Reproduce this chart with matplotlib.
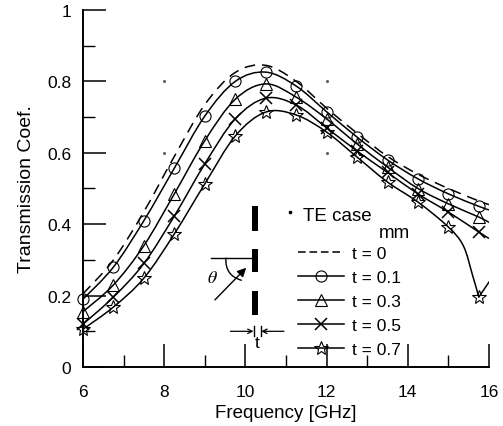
import matplotlib
matplotlib.use("Agg")
import matplotlib.pyplot as plt
import numpy as np
from matplotlib.lines import Line2D
from matplotlib.patches import PathPatch, Rectangle, FancyArrowPatch
from matplotlib.path import Path
from matplotlib.ticker import MultipleLocator, FuncFormatter

plt.rcParams['font.family'] = ['Liberation Sans', 'DejaVu Sans']

freq = [6, 6.75, 7.5, 8.25, 9, 9.75, 10.5, 11.25, 12, 12.75, 13.5, 14.25, 15, 15.75]
t0 = [.205, .30, .435, .59, .735, .825, .845, .80, .725, .655, .59, .54, .50, .465]
t1 = [.19, .28, .41, .557, .703, .80, .826, .787, .715, .644, .58, .527, .485, .45]
t3 = [.155, .23, .34, .485, .634, .75, .793, .756, .695, .625, .56, .50, .457, .42]
t5 = [.12, .196, .29, .423, .569, .695, .753, .734, .67, .605, .545, .485, .434, .378]
t7 = [.106, .168, .249, .373, .513, .647, .714, .706, .658, .588, .518, .462, .392, .196]

# line ends past the last marker
end_x = 16
end_t0, end_t1, end_t3, end_t5, end_t7 = .455, .44, .405, .36, .238
# t=0.7 drops off sharply, extra points
bend_x = [15.37, 15.6]
bend_y = [.339, .255]

labels = ['t = 0', 't = 0.1', 't = 0.3', 't = 0.5', 't = 0.7']


def smooth(x, y):
    # catmull-rom through the read points, as bezier segments
    x = np.array(x, dtype=float)
    y = np.array(y, dtype=float)
    p = np.column_stack([x, y])
    verts = [p[0]]
    codes = [Path.MOVETO]
    for i in range(len(p) - 1):
        a = p[max(i - 1, 0)]
        d = p[min(i + 2, len(p) - 1)]
        verts += [p[i] + (p[i + 1] - a) / 6, p[i + 1] - (d - p[i]) / 6, p[i + 1]]
        codes += [Path.CURVE4] * 3
    return Path(verts, codes)


def curve(ax, x, y, ls='-'):
    ax.add_patch(PathPatch(smooth(x, y), fill=False, ec='black', lw=1.1, ls=ls, capstyle='butt'))


fig = plt.figure(figsize=(5.03, 4.27), dpi=100)
ax = fig.add_axes([83 / 503, 1 - 368 / 427, (489 - 83) / 503, 357 / 427])
ax.set_xlim(6, 16)
ax.set_ylim(0, 1)

curve(ax, freq + [end_x], t0 + [end_t0], ls=(0, (7, 4.5)))
curve(ax, freq + [end_x], t1 + [end_t1])
curve(ax, freq + [end_x], t3 + [end_t3])
curve(ax, freq + [end_x], t5 + [end_t5])
curve(ax, freq[:-1] + bend_x + freq[-1:], t7[:-1] + bend_y + t7[-1:])
ax.plot([freq[-1], end_x], [t7[-1], end_t7], color='black', lw=1.1)

styles = [dict(marker='o', ms=8), dict(marker='^', ms=8), dict(marker='x', ms=8.5, mew=1.1), dict(marker='*', ms=10)]
for vals, st in zip([t1, t3, t5, t7], styles):
    ax.plot(freq, vals, ls='none', color='black', mfc='none', mew=st.get('mew', .8),
            marker=st['marker'], ms=st['ms'], clip_on=False, zorder=4)

# specks left on the scan
ax.plot([8, 12, 8, 12], [.8, .8, .6, .6], ls='none', marker='s', ms=1, color='#555555')

for side in ['top', 'right']:
    ax.spines[side].set_visible(False)
ax.spines['left'].set_linewidth(1.4)
ax.spines['bottom'].set_linewidth(1.4)
ax.xaxis.set_major_locator(MultipleLocator(2))
ax.xaxis.set_minor_locator(MultipleLocator(1))
ax.yaxis.set_major_locator(MultipleLocator(.2))
ax.yaxis.set_minor_locator(MultipleLocator(.1))
ax.yaxis.set_major_formatter(FuncFormatter(lambda v, _: '%g' % round(v, 1)))
ax.tick_params(which='major', direction='in', length=16.5, width=1.1, labelsize=12.5)
ax.tick_params(which='minor', direction='in', length=8.5, width=1)
ax.tick_params(axis='x', which='major', pad=12.5)
ax.tick_params(axis='y', which='major', pad=8.5)
ax.set_xlabel('Frequency [GHz]', fontsize=13.5, labelpad=3)
ax.set_ylabel('Transmission Coef.', fontsize=14, labelpad=9)

# slit sketch
for low, high in [(.381, .451), (.267, .331), (.146, .213)]:
    ax.add_patch(Rectangle((10.17, low), .148, high - low, color='black', lw=0))
ax.plot([9.15, 10.24], [.305, .305], color='black', lw=1)
ax.add_patch(FancyArrowPatch((9.25, .188), (10.02, .278), arrowstyle='-|>', mutation_scale=13,
                             color='black', lw=1, shrinkA=0, shrinkB=0))
ax.add_patch(FancyArrowPatch((9.52, .305), (9.9, .243), connectionstyle='arc3,rad=0.4', arrowstyle='-',
                             color='black', lw=1, shrinkA=0, shrinkB=0))
ax.text(9.2, .252, r'$\theta$', fontsize=13, math_fontfamily='stix', ha='center', va='center')
ax.plot([10.2, 10.2], [.115, .087], color='black', lw=1)
ax.plot([10.39, 10.39], [.115, .087], color='black', lw=1)
ax.add_patch(FancyArrowPatch((9.63, .1), (10.2, .1), arrowstyle='->', mutation_scale=8, color='black',
                             lw=.9, shrinkA=0, shrinkB=0))
ax.add_patch(FancyArrowPatch((10.95, .1), (10.39, .1), arrowstyle='->', mutation_scale=8, color='black',
                             lw=.9, shrinkA=0, shrinkB=0))
ax.text(10.3, .07, 't', fontsize=12.5, ha='center', va='center')

ax.plot([11.1], [.435], ls='none', marker='s', ms=1.5, color='black')
ax.text(11.43, .425, 'TE case', fontsize=13.5, ha='left', va='center')
ax.text(13.68, .378, 'mm', fontsize=13.5, ha='center', va='center')

handles = [Line2D([], [], color='black', lw=1.1, ls=(0, (5, 2.5)))]
for st in styles:
    handles.append(Line2D([], [], color='black', lw=1.1, mfc='none', mew=st.get('mew', .8),
                          marker=st['marker'], ms=st['ms']))
ax.legend(handles, labels, loc='lower left', bbox_to_anchor=(.53, .027), frameon=False, fontsize=12.5,
          numpoints=1, handlelength=2.65, handletextpad=.45, labelspacing=.51, borderpad=0, borderaxespad=0)

fig.savefig('out.png', dpi=100)
